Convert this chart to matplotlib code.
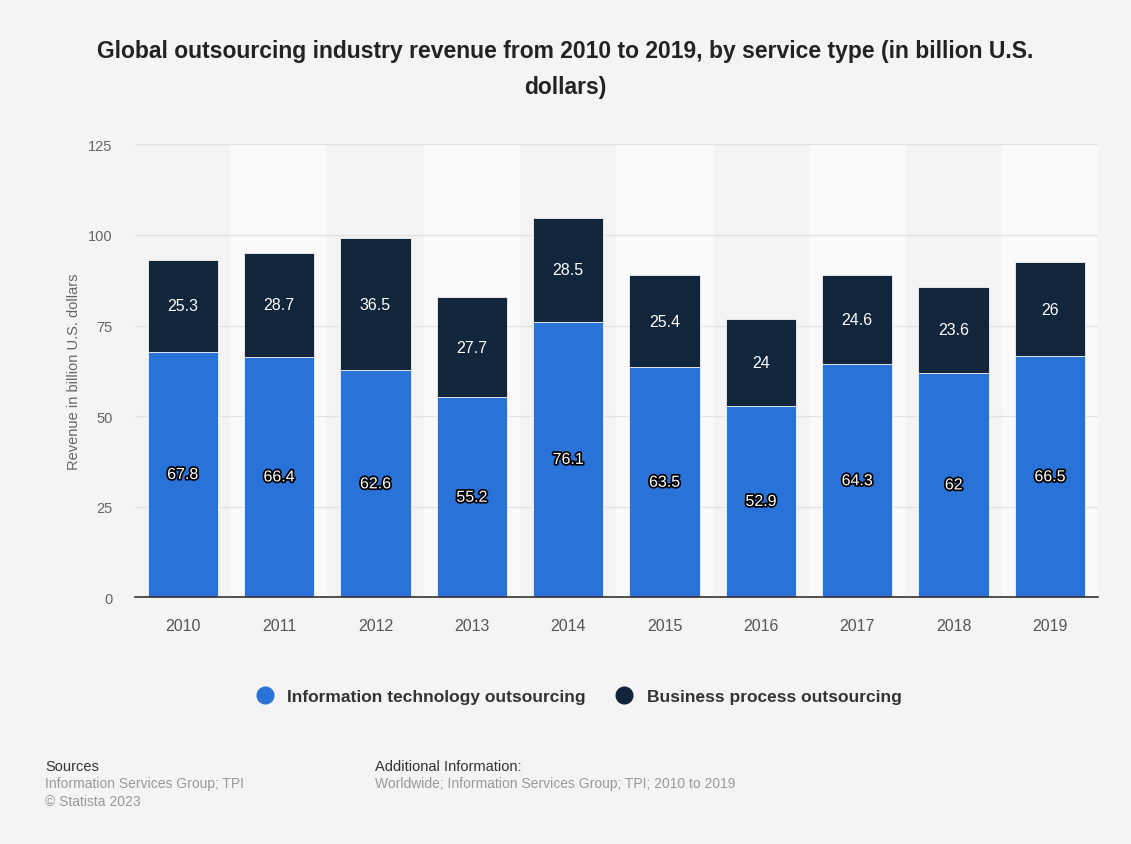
import matplotlib.pyplot as plt
import matplotlib.patheffects as pe
import numpy as np
from matplotlib.lines import Line2D

plt.rcParams['font.family'] = ['Liberation Sans', 'DejaVu Sans']

years = ['2010', '2011', '2012', '2013', '2014', '2015', '2016', '2017', '2018', '2019']
ito = [67.8, 66.4, 62.6, 55.2, 76.1, 63.5, 52.9, 64.3, 62, 66.5]
bpo = [25.3, 28.7, 36.5, 27.7, 28.5, 25.4, 24, 24.6, 23.6, 26]
yticks = [0, 25, 50, 75, 100, 125]

bg = '#f4f4f4'
blue = '#2872d8'
navy = '#11253b'

fig = plt.figure(figsize=(11.31, 8.45), dpi=100, facecolor=bg)
ax = fig.add_axes([0.119, 0.292, 0.852, 0.536], facecolor=bg)

x = np.arange(len(years))
# lighter band behind every other column
for i in x[1::2]:
    ax.axvspan(i - 0.5, i + 0.5, color='#fafafa', zorder=0, lw=0)

ax.bar(x, ito, width=0.73, color=blue, zorder=3, edgecolor=bg, linewidth=0.6)
ax.bar(x, bpo, bottom=ito, width=0.73, color=navy, zorder=3, edgecolor=bg, linewidth=0.6)

outline = [pe.withStroke(linewidth=2.5, foreground='black')]
for xi, a, b in zip(x, ito, bpo):
    ax.text(xi, a / 2, f'{a:g}', ha='center', va='center', color='white',
            fontsize=11.5, zorder=5, path_effects=outline)
    ax.text(xi, a + b / 2, f'{b:g}', ha='center', va='center', color='white',
            fontsize=11.5, zorder=5)

ax.set_xlim(-0.5, len(years) - 0.5)
ax.set_ylim(0, 125)
ax.set_yticks(yticks)
ax.set_xticks(x, years)
ax.yaxis.grid(True, color='#e2e2e2', linewidth=0.9, zorder=1)
ax.set_axisbelow(True)
for s in ['top', 'right', 'left']:
    ax.spines[s].set_visible(False)
ax.spines['bottom'].set_color('#333333')
ax.spines['bottom'].set_linewidth(1.2)
ax.spines['bottom'].set_zorder(4)
ax.tick_params(axis='y', length=0, pad=16, labelsize=10.5, labelcolor='#666666')
ax.tick_params(axis='x', length=0, pad=15, labelsize=11.5, labelcolor='#555555')
ax.set_ylabel('Revenue in billion U.S. dollars', fontsize=10.5, color='#666666', labelpad=5)

fig.text(0.5, 0.918, 'Global outsourcing industry revenue from 2010 to 2019, by service type (in billion U.S.\ndollars)',
         ha='center', va='center', fontsize=16.5, fontweight='bold', color='#222222',
         linespacing=1.7)

handles = [Line2D([], [], marker='o', ls='', markersize=12, color=blue),
           Line2D([], [], marker='o', ls='', markersize=12, color=navy)]
fig.legend(handles, ['Information technology outsourcing', 'Business process outsourcing'],
           loc='center', bbox_to_anchor=(0.508, 0.175), ncol=2, frameon=False,
           handletextpad=0.3, columnspacing=1.2,
           prop={'weight': 'bold', 'size': 12.5})
for t in fig.legends[0].get_texts():
    t.set_color('#333333')

fig.text(0.040, 0.088, 'Sources', fontsize=10.5, color='#333333')
fig.text(0.040, 0.067, 'Information Services Group; TPI', fontsize=10, color='#999999')
fig.text(0.040, 0.046, '\u00a9 Statista 2023', fontsize=10, color='#999999')
fig.text(0.332, 0.088, 'Additional Information:', fontsize=10.5, color='#333333')
fig.text(0.332, 0.067, 'Worldwide; Information Services Group; TPI; 2010 to 2019', fontsize=10, color='#999999')

fig.savefig('out.png', dpi=100, facecolor=bg)
